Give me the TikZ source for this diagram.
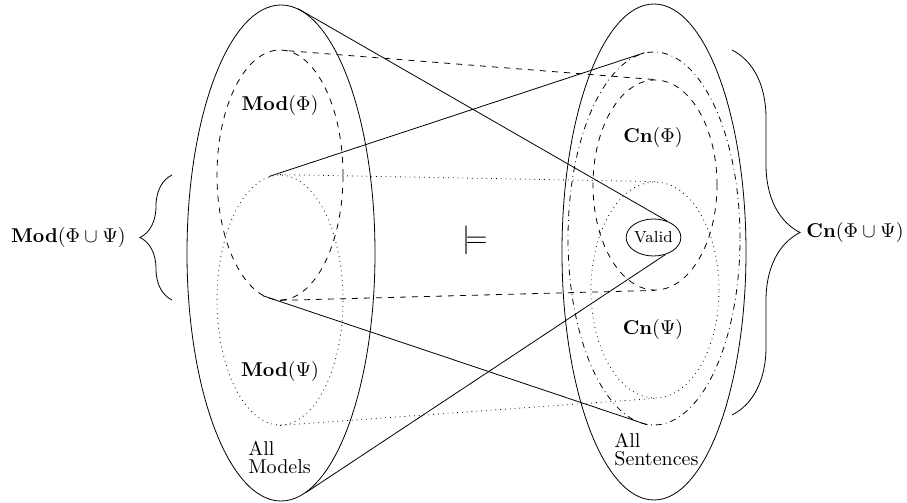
\documentclass[tikz,border=0pt]{standalone}
\usetikzlibrary{shapes.geometric,decorations.pathreplacing}
\begin{document}
\begin{tikzpicture}[x=0.5pt,y=-0.5pt,
  ell/.style={ellipse,inner sep=0pt,draw},
  lbl/.style={inner sep=1pt},
  brc/.style={decorate,decoration={brace,amplitude=#1}}]
\useasboundingbox (0,0) rectangle (907,503);
% left side
\node[ell,minimum width=94pt,minimum height=248pt] (allm) at (281,253) {};
\node[ell,dashed,minimum width=63pt,minimum height=125pt] (modphi) at (280,175) {};
\node[ell,dotted,minimum width=63pt,minimum height=125pt] (modpsi) at (280,300) {};
% right side
\node[ell,minimum width=92pt,minimum height=248pt] (alls) at (654,252) {};
\node[ell,dash dot,minimum width=86pt,minimum height=186.5pt] (cnall) at (654,238.5) {};
\node[ell,dashed,minimum width=62pt,minimum height=105pt] (cnphi) at (655,185) {};
\node[ell,dotted,minimum width=64pt,minimum height=108pt] (cnpsi) at (655,290) {};
\node[ell,font=\footnotesize,minimum width=23.5pt,minimum height=18.5pt] (valid) at (653.5,237.5) {Valid};
% labels
\node[lbl] (lmodphi) at (280,106) {$\mathbf{Mod}(\Phi)$};
\node[lbl] (lmodpsi) at (280,371) {$\mathbf{Mod}(\Psi)$};
\node[lbl,align=left,anchor=west] (lallm) at (246,457) {All\\[-3pt]Models};
\node[lbl] (lcnphi) at (653,137) {$\mathbf{Cn}(\Phi)$};
\node[lbl] (lcnpsi) at (653,329) {$\mathbf{Cn}(\Psi)$};
\node[lbl,align=left,anchor=west] (lalls) at (612,450) {All\\[-3pt]Sentences};
\node[lbl,font=\Large] (models) at (475,240) {$\models$};
% connectors
\draw (allm.86) -- (valid.50);
\draw (allm.-84) -- (valid.-55);
\draw (modpsi.95) -- (cnall.93);
\draw (modphi.-98) -- (cnall.-92);
\draw[dashed] (modphi.86) -- (cnphi.north);
\draw[dashed] (modphi.south) -- (cnphi.south);
\draw[dotted] (modpsi.north) -- (cnpsi.north);
\draw[dotted] (modpsi.south) -- (cnpsi.south);
% braces
\coordinate (lbb) at (172,300);
\coordinate (lbt) at (172,175);
\draw[brc=16pt] (lbb) -- (lbt);
\node[lbl,anchor=east] (lmodall) at (128,237.5) {$\mathbf{Mod}(\Phi\cup\Psi)$};
\coordinate (rbt) at (732,50);
\coordinate (rbb) at (732,415);
\draw[brc=34pt] (rbt) -- (rbb);
\node[lbl,anchor=west] (lcnall) at (804,232.5) {$\mathbf{Cn}(\Phi\cup\Psi)$};
\end{tikzpicture}
\end{document}
